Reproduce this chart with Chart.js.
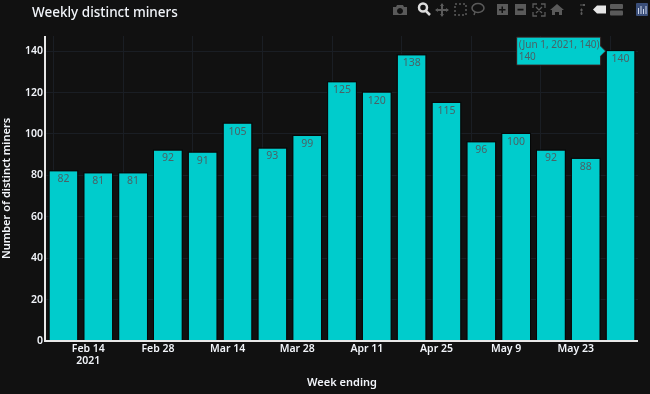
<!DOCTYPE html>
<html><head><meta charset="utf-8">
<script src="https://cdn.jsdelivr.net/npm/chart.js@4"></script>
<style>
html,body{margin:0;padding:0;background:#111111;width:650px;height:394px;overflow:hidden}
#wrap{position:relative;width:650px;height:394px}
canvas{position:absolute;left:0;top:0}
</style></head>
<body><div id="wrap"><canvas id="c" width="650" height="394"></canvas>
<svg id="bar" width="270" height="24" style="position:absolute;left:380px;top:0">
<g fill="#5a5a5a">
<path d="M17 5h6l1 2h3v8H13V7h3z M20 8a3 3 0 1 0 .01 0z" fill-rule="evenodd"/>
<circle cx="43" cy="7.500" r="4" fill="none" stroke="#ddd" stroke-width="2.500"/><path d="M46 11l4 4" stroke="#ddd" stroke-width="2.500"/>
<path d="M62 4v12M56 10h12" stroke="#5a5a5a" stroke-width="2"/><path d="M62 3l-2 3h4zM62 17l-2-3h4zM55 10l3-2v4zM69 10l-3-2v4z"/>
<rect x="75" y="4" width="11" height="11" fill="none" stroke="#5a5a5a" stroke-width="1.500" stroke-dasharray="2 2"/>
<ellipse cx="98" cy="8" rx="6" ry="4.500" fill="none" stroke="#5a5a5a" stroke-width="1.500"/><path d="M95 12l-1 3" stroke="#5a5a5a" stroke-width="1.500"/>
<path d="M117 4h11v11h-11z M121.500 6.500v2.500h-2.500v1.500h2.500v2.500h1.500v-2.500h2.500v-1.500h-2.500v-2.500z" fill-rule="evenodd"/>
<path d="M135 4h11v11h-11z M137.500 8.800v1.700h6v-1.700z" fill-rule="evenodd"/>
<path d="M153 8V4h4M161 4h4v4M165 12v4h-4M157 16h-4v-4M156 7l6 6M162 7l-6 6" fill="none" stroke="#5a5a5a" stroke-width="1.300"/>
<path d="M177 4l7 6h-2v5h-3v-3h-4v3h-3v-5h-2z"/>
<path d="M200 5h3M201 9h1v2h-1zM201 12.500h1v2h-1z" stroke="#5a5a5a" stroke-width="1"/><rect x="203" y="4" width="2" height="2"/>
<path d="M213 9.500l4-4h9v8h-9z" fill="#e6e6e6"/>
<rect x="230" y="4" width="13" height="5" rx="1"/><rect x="230" y="10.500" width="13" height="5" rx="1"/>
<rect x="256" y="3" width="12" height="13" rx="1" fill="#3b4f7a"/>
<path d="M258.500 14V8M261 14V6M263.500 14V9M266 14V6" stroke="#cdd6ea" stroke-width="1"/>
</g></svg></div>
<script>
const weekEnding = ["Feb 9, 2021","Feb 16, 2021","Feb 23, 2021","Mar 2, 2021","Mar 9, 2021","Mar 16, 2021","Mar 23, 2021","Mar 30, 2021","Apr 6, 2021","Apr 13, 2021","Apr 20, 2021","Apr 27, 2021","May 4, 2021","May 11, 2021","May 18, 2021","May 25, 2021","Jun 1, 2021"];
const dayOffsets = [0,7,14,21,28,35,42,49,56,63,70,77,84,91,98,105,112];
const miners = [82,81,81,92,91,105,93,99,125,120,138,115,96,100,92,88,140];
const tickDays = [5,19,33,47,61,75,89,103];
const tickLabels = [["Feb 14","2021"],"Feb 28","Mar 14","Mar 28","Apr 11","Apr 25","May 9","May 23"];
const yTicks = [0,20,40,60,80,100,120,140];

const FONT = '"Noto Sans", sans-serif';
const CYAN = '#00cccc';

const extras = {
  id:'extras',
  afterDatasetsDraw(chart){
    const {ctx,scales:{x,y}} = chart;
    const meta = chart.getDatasetMeta(0);
    ctx.save();
    ctx.strokeStyle='#060808'; ctx.lineWidth=1;
    meta.data.forEach(b=>ctx.strokeRect(b.x-b.width/2-0.5,b.y-0.5,b.width+1,y.bottom-b.y+0.5));
    ctx.strokeStyle='#e8e8e8'; ctx.lineWidth=2;
    ctx.beginPath();
    ctx.moveTo(x.left-1,y.top); ctx.lineTo(x.left-1,y.bottom); ctx.lineTo(x.right,y.bottom);
    ctx.stroke();
    ctx.font='10.500px '+FONT; ctx.fillStyle='#4a6266'; ctx.textAlign='center'; ctx.textBaseline='middle';
    meta.data.forEach((b,i)=>ctx.fillText(String(miners[i]),b.x,b.y+8));
    const last = meta.data[meta.data.length-1];
    const ax = last.x-last.width/2-1, ay = last.y;
    const bw=84, bh=28, gap=5, bx=ax-gap-bw, by=ay-14;
    ctx.fillStyle=CYAN; ctx.strokeStyle='#3a1a1a'; ctx.lineWidth=1;
    ctx.beginPath();
    ctx.moveTo(bx,by); ctx.lineTo(bx+bw,by); ctx.lineTo(bx+bw,ay-gap); ctx.lineTo(ax,ay);
    ctx.lineTo(bx+bw,ay+gap); ctx.lineTo(bx+bw,by+bh); ctx.lineTo(bx,by+bh); ctx.closePath();
    ctx.fill(); ctx.stroke();
    ctx.fillStyle='#4a6266'; ctx.textAlign='left'; ctx.textBaseline='middle'; ctx.font='10px '+FONT;
    ctx.fillText('('+weekEnding[weekEnding.length-1]+', '+miners[miners.length-1]+')',bx+2,by+8);
    ctx.fillText(String(miners[miners.length-1]),bx+2,by+20);
    ctx.fillStyle='#f2f5fa'; ctx.font='500 13.500px '+FONT; ctx.textBaseline='alphabetic';
    ctx.fillText('Weekly distinct miners',32,17);
    ctx.restore();
  }
};

new Chart(document.getElementById('c'),{
  type:'bar',
  data:{datasets:[{
    data:dayOffsets.map((d,i)=>({x:d,y:miners[i]})),
    backgroundColor:CYAN, borderWidth:0,
    barPercentage:0.8, categoryPercentage:1
  }]},
  options:{
    responsive:false, animation:false, events:[],
    layout:{padding:{top:36,right:12,left:0,bottom:0}},
    plugins:{legend:{display:false},tooltip:{enabled:false},title:{display:false}},
    scales:{
      x:{type:'linear',min:-3.5,max:115.5,offset:false,
        afterFit(s){s.height=53;},
        afterBuildTicks(s){s.ticks=tickDays.map(v=>({value:v}));},
        ticks:{autoSkip:false,maxRotation:0,padding:3,color:'#f2f5fa',font:{family:FONT,size:10.500,weight:'600',lineHeight:1.05},
          callback(v){return tickLabels[tickDays.indexOf(v)];}},
        grid:{color:'#1a1e24',lineWidth:1,drawTicks:false},
        border:{display:false},
        title:{display:true,text:'Week ending',color:'#f2f5fa',font:{family:FONT,size:11,weight:'600'},padding:{top:0,bottom:5}}
      },
      y:{min:0,max:147.3,
        afterFit(s){s.width=46;},
        afterBuildTicks(s){s.ticks=yTicks.map(v=>({value:v}));},
        ticks:{padding:3,color:'#f2f5fa',font:{family:FONT,size:10.500,weight:'600'}},
        grid:{color:'#1a1e24',lineWidth:1,drawTicks:false},
        border:{display:false},
        title:{display:true,text:'Number of distinct miners',color:'#f2f5fa',font:{family:FONT,size:11,weight:'600'},padding:{top:0,bottom:0}}
      }
    }
  },
  plugins:[extras]
});
</script></body></html>
